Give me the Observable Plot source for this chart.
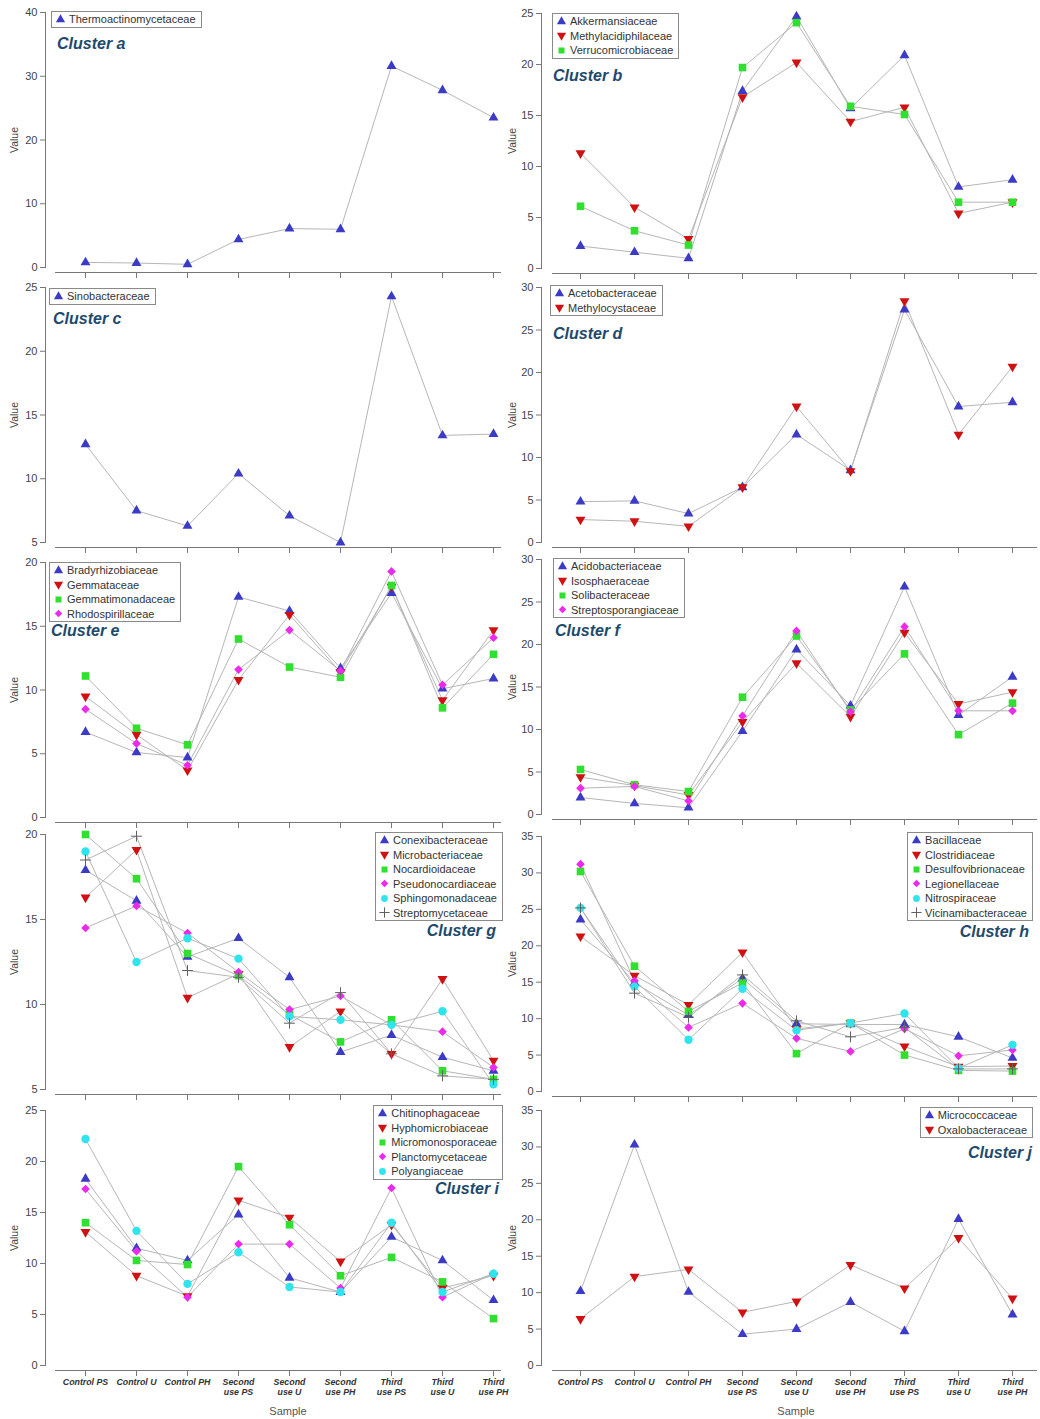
<!DOCTYPE html>
<html><head><meta charset="utf-8">
<script src="https://cdn.jsdelivr.net/npm/d3@7"></script>
<script src="https://cdn.jsdelivr.net/npm/@observablehq/plot@0.6"></script>
<style>
body{margin:0;background:#fff;font-family:"Liberation Sans",Arial,sans-serif;}
#c{position:relative;width:1040px;height:1419px;overflow:hidden;background:#fff;}
.panel{position:absolute;}
.legend{position:absolute;border:1px solid #8a8a8a;background:#fff;padding:0 5px 0 3px;font-size:11px;color:#333;line-height:14.5px;}
.legend .row{display:flex;align-items:center;white-space:nowrap;height:14.5px;}
.legend svg{margin-right:3px;flex:none;}
.title{position:absolute;font-size:16px;font-weight:bold;font-style:italic;color:#1e4a6d;line-height:16px;white-space:nowrap;}
.vlabel{position:absolute;font-size:10.5px;color:#444;transform:translate(-50%,-50%) rotate(-90deg);white-space:nowrap;}
.xlabel{position:absolute;font-size:11px;color:#555;transform:translate(-50%,-50%);}
</style></head><body><div id="c"></div>
<script>
// ---------- data ----------
const samples = ["Control PS","Control U","Control PH","Second use PS","Second use U","Second use PH","Third use PS","Third use U","Third use PH"];
const sampleTickLabels = ["Control PS","Control U","Control PH","Second\nuse PS","Second\nuse U","Second\nuse PH","Third\nuse PS","Third\nuse U","Third\nuse PH"];

const clusterA_names = ["Thermoactinomycetaceae"];
const clusterA_values = [[0.8, 0.7, 0.5, 4.4, 6.1, 6.0, 31.6, 27.8, 23.5]];
const clusterA_ticks = [0, 10, 20, 30, 40];

const clusterB_names = ["Akkermansiaceae", "Methylacidiphilaceae", "Verrucomicrobiaceae"];
const clusterB_values = [
  [2.2, 1.6, 1.0, 17.4, 24.7, 15.7, 20.9, 8.0, 8.7],
  [11.3, 6.0, 2.9, 16.8, 20.2, 14.4, 15.8, 5.4, 6.5],
  [6.1, 3.7, 2.3, 19.7, 24.1, 15.9, 15.1, 6.5, 6.5]
];
const clusterB_ticks = [0, 5, 10, 15, 20, 25];

const clusterC_names = ["Sinobacteraceae"];
const clusterC_values = [[12.7, 7.5, 6.3, 10.4, 7.1, 5.0, 24.3, 13.4, 13.5]];
const clusterC_ticks = [5, 10, 15, 20, 25];

const clusterD_names = ["Acetobacteraceae", "Methylocystaceae"];
const clusterD_values = [
  [4.8, 4.9, 3.4, 6.5, 12.7, 8.5, 27.4, 16.0, 16.5],
  [2.7, 2.5, 1.9, 6.5, 16.0, 8.4, 28.4, 12.7, 20.7]
];
const clusterD_ticks = [0, 5, 10, 15, 20, 25, 30];

const clusterE_names = ["Bradyrhizobiaceae", "Gemmataceae", "Gemmatimonadaceae", "Rhodospirillaceae"];
const clusterE_values = [
  [6.7, 5.1, 4.7, 17.3, 16.2, 11.7, 17.6, 10.1, 10.9],
  [9.5, 6.5, 3.7, 10.8, 15.9, 11.4, 18.1, 9.2, 14.7],
  [11.1, 7.0, 5.7, 14.0, 11.8, 11.0, 18.2, 8.6, 12.8],
  [8.5, 5.8, 4.1, 11.6, 14.7, 11.5, 19.3, 10.4, 14.1]
];
const clusterE_ticks = [0, 5, 10, 15, 20];

const clusterF_names = ["Acidobacteriaceae", "Isosphaeraceae", "Solibacteraceae", "Streptosporangiaceae"];
const clusterF_values = [
  [2.0, 1.3, 0.8, 9.8, 19.4, 12.8, 26.8, 11.7, 16.2],
  [4.4, 3.4, 2.3, 10.9, 17.8, 11.5, 21.4, 13.0, 14.4],
  [5.3, 3.5, 2.7, 13.8, 21.0, 12.3, 18.9, 9.4, 13.1],
  [3.1, 3.3, 1.6, 11.6, 21.6, 12.1, 22.1, 12.2, 12.2]
];
const clusterF_ticks = [0, 5, 10, 15, 20, 25, 30];

const clusterG_names = ["Conexibacteraceae", "Microbacteriaceae", "Nocardioidaceae", "Pseudonocardiaceae", "Sphingomonadaceae", "Streptomycetaceae"];
const clusterG_values = [
  [17.9, 16.1, 12.8, 13.9, 11.6, 7.2, 8.2, 6.9, 6.1],
  [16.3, 19.1, 10.4, 11.8, 7.5, 9.6, 7.1, 11.5, 6.7],
  [20.0, 17.4, 13.0, 11.7, 9.4, 7.8, 9.1, 6.1, 5.6],
  [14.5, 15.8, 14.2, 11.9, 9.7, 10.5, 8.8, 8.4, 6.3],
  [19.0, 12.5, 13.9, 12.7, 9.3, 9.1, 8.8, 9.6, 5.3],
  [18.5, 19.9, 12.0, 11.6, 8.9, 10.7, 7.1, 5.8, 5.6]
];
const clusterG_ticks = [5, 10, 15, 20];

const clusterH_names = ["Bacillaceae", "Clostridiaceae", "Desulfovibrionaceae", "Legionellaceae", "Nitrospiraceae", "Vicinamibacteraceae"];
const clusterH_values = [
  [23.6, 14.9, 10.5, 15.5, 9.3, 9.2, 9.2, 7.5, 4.6],
  [21.3, 15.9, 11.9, 19.1, 8.6, 9.4, 6.2, 3.4, 3.5],
  [30.2, 17.2, 11.0, 14.9, 5.2, 9.4, 5.0, 2.9, 2.8],
  [31.2, 15.2, 8.8, 12.1, 7.3, 5.5, 8.6, 4.9, 5.7],
  [25.2, 14.4, 7.1, 14.1, 8.4, 9.4, 10.7, 3.2, 6.4],
  [25.2, 13.5, 10.2, 16.0, 9.7, 7.5, 8.8, 3.1, 3.1]
];
const clusterH_ticks = [0, 5, 10, 15, 20, 25, 30, 35];

const clusterI_names = ["Chitinophagaceae", "Hyphomicrobiaceae", "Micromonosporaceae", "Planctomycetaceae", "Polyangiaceae"];
const clusterI_values = [
  [18.3, 11.5, 10.3, 14.8, 8.6, 7.2, 12.6, 10.3, 6.4],
  [13.1, 8.8, 6.8, 16.2, 14.5, 10.2, 13.8, 7.6, 8.8],
  [14.0, 10.3, 9.9, 19.5, 13.8, 8.8, 10.6, 8.2, 4.6],
  [17.3, 11.2, 6.7, 11.9, 11.9, 7.6, 17.4, 6.7, 9.0],
  [22.2, 13.2, 8.0, 11.1, 7.7, 7.2, 14.0, 7.2, 9.0]
];
const clusterI_ticks = [0, 5, 10, 15, 20, 25];

const clusterJ_names = ["Micrococcaceae", "Oxalobacteraceae"];
const clusterJ_values = [
  [10.2, 30.3, 10.1, 4.3, 5.0, 8.7, 4.7, 20.1, 7.0],
  [6.4, 12.2, 13.2, 7.3, 8.8, 13.8, 10.6, 17.5, 9.2]
];
const clusterJ_ticks = [0, 5, 10, 15, 20, 25, 30, 35];

const clusterTitles = ["Cluster a","Cluster b","Cluster c","Cluster d","Cluster e","Cluster f","Cluster g","Cluster h","Cluster i","Cluster j"];

// ---------- styles ----------
const triangleDown = {
  draw(ctx, size) {
    const s3 = Math.sqrt(3);
    const y = -Math.sqrt(size / (s3 * 3));
    ctx.moveTo(0, -y * 2);
    ctx.lineTo(-s3 * y, y);
    ctx.lineTo(s3 * y, y);
    ctx.closePath();
  }
};
const seriesStyles = [
  {symbol: d3.symbolTriangle, r: 3.7, fill: "#3b3bc6", stroke: "none"},
  {symbol: triangleDown, r: 3.7, fill: "#cf1111", stroke: "none"},
  {symbol: d3.symbolSquare, r: 4.3, fill: "#2fe02f", stroke: "none"},
  {symbol: d3.symbolDiamond2, r: 3.9, fill: "#ec2aec", stroke: "none"},
  {symbol: d3.symbolCircle, r: 4.2, fill: "#2fe4ec", stroke: "none"},
  {symbol: d3.symbolPlus, r: 3.6, fill: "none", stroke: "#606060"}
];

// ---------- layout ----------
const L = {left: 0, width: 520, ml: 45, mr: 20, ixl: 36, ixr: 4, fxl: 10, vx: 14, sx: 288};
const R = {left: 500, width: 540, ml: 41, mr: 4, ixl: 37, ixr: 23, fxl: 11, vx: 512, sx: 796};
const panels = [
  {side: L, top: 0,    names: clusterA_names, values: clusterA_values, ticks: clusterA_ticks,
   legend: {left: 51, top: 11}, title: {left: 57, top: 36}},
  {side: R, top: 1,    names: clusterB_names, values: clusterB_values, ticks: clusterB_ticks,
   legend: {left: 552, top: 13}, title: {left: 553, top: 68}},
  {side: L, top: 275,  names: clusterC_names, values: clusterC_values, ticks: clusterC_ticks,
   legend: {left: 49, top: 288}, title: {left: 53, top: 311}},
  {side: R, top: 275,  names: clusterD_names, values: clusterD_values, ticks: clusterD_ticks,
   legend: {left: 550, top: 285}, title: {left: 553, top: 326}},
  {side: L, top: 550,  names: clusterE_names, values: clusterE_values, ticks: clusterE_ticks,
   legend: {left: 49, top: 562}, title: {left: 51, top: 623}},
  {side: R, top: 547,  names: clusterF_names, values: clusterF_values, ticks: clusterF_ticks,
   legend: {left: 553, top: 558}, title: {left: 555, top: 623}},
  {side: L, top: 822,  names: clusterG_names, values: clusterG_values, ticks: clusterG_ticks,
   legend: {right: 537, top: 832}, title: {right: 544, top: 923}},
  {side: R, top: 824,  names: clusterH_names, values: clusterH_values, ticks: clusterH_ticks,
   legend: {right: 7, top: 832}, title: {right: 11, top: 924}},
  {side: L, top: 1098, names: clusterI_names, values: clusterI_values, ticks: clusterI_ticks, bottom: true,
   legend: {right: 537, top: 1105}, title: {right: 541, top: 1181}},
  {side: R, top: 1098, names: clusterJ_names, values: clusterJ_values, ticks: clusterJ_ticks, bottom: true,
   legend: {right: 7, top: 1107}, title: {right: 8, top: 1145}}
];

const container = document.getElementById("c");
const PLOT_H = 255, MT = 12, IB = 5;

function place(el, pos) {
  for (const k of ["left", "right", "top"]) if (pos[k] != null) el.style[k] = pos[k] + "px";
}

panels.forEach((p, pi) => {
  const s = p.side;
  const mb = p.bottom ? 50 : 10;
  const height = MT + PLOT_H + IB + mb;
  const data = p.names.map((n, k) => p.values[k].map((v, i) => ({sample: samples[i], value: v, series: n})));
  const plot = Plot.plot({
    width: s.width,
    height,
    marginLeft: s.ml, marginRight: s.mr, marginTop: MT, marginBottom: mb,
    style: {background: "none", overflow: "visible", color: "#666", fontFamily: "'Liberation Sans', Arial, sans-serif", fontSize: "11px"},
    x: {type: "point", domain: samples, padding: 0, insetLeft: s.ixl, insetRight: s.ixr},
    y: {domain: [p.ticks[0], p.ticks[p.ticks.length - 1]], insetBottom: IB, label: null},
    marks: [
      Plot.frame({anchor: "left", insetBottom: IB, stroke: "#777"}),
      Plot.frame({anchor: "bottom", insetLeft: s.fxl, stroke: "#777"}),
      Plot.axisY({ticks: p.ticks, tickSize: 5, tickPadding: 3, fontSize: 11, fill: "#444", stroke: "#777", label: null}),
      Plot.axisX({
        tickSize: 6, stroke: "#777", label: null,
        tickPadding: 2,
        tickFormat: p.bottom ? (d) => sampleTickLabels[samples.indexOf(d)] : () => "",
        fontSize: 8.8, fontWeight: "bold", fontStyle: "italic", fill: "#333", lineHeight: 1.1
      }),
      ...data.map(d => Plot.line(d, {x: "sample", y: "value", stroke: "#b6b6b6", strokeWidth: 1})),
      ...data.map((d, k) => {
        const st = seriesStyles[k];
        return Plot.dot(d, {x: "sample", y: "value", symbol: st.symbol, r: st.r, fill: st.fill, stroke: st.stroke, strokeWidth: 1});
      })
    ]
  });
  const wrap = document.createElement("div");
  wrap.className = "panel";
  wrap.style.left = s.left + "px";
  wrap.style.top = p.top + "px";
  wrap.appendChild(plot);
  container.appendChild(wrap);

  // y label
  const vl = document.createElement("div");
  vl.className = "vlabel";
  vl.textContent = "Value";
  vl.style.left = s.vx + "px";
  vl.style.top = (p.top + MT + PLOT_H / 2) + "px";
  container.appendChild(vl);

  // x label
  if (p.bottom) {
    const xl = document.createElement("div");
    xl.className = "xlabel";
    xl.textContent = "Sample";
    xl.style.left = s.sx + "px";
    xl.style.top = "1411px";
    container.appendChild(xl);
  }

  // legend
  const lg = document.createElement("div");
  lg.className = "legend";
  place(lg, p.legend);
  p.names.forEach((n, k) => {
    const st = seriesStyles[k];
    const row = document.createElement("div");
    row.className = "row";
    const svg = d3.create("svg").attr("width", 11).attr("height", 11);
    svg.append("path")
      .attr("transform", "translate(5.5,5.5)")
      .attr("d", d3.symbol().type(st.symbol).size(Math.PI * 3.4 * 3.4)())
      .attr("fill", st.fill).attr("stroke", st.stroke);
    row.appendChild(svg.node());
    const t = document.createElement("span");
    t.textContent = n;
    row.appendChild(t);
    lg.appendChild(row);
  });
  container.appendChild(lg);

  // title
  const tt = document.createElement("div");
  tt.className = "title";
  tt.textContent = clusterTitles[pi];
  place(tt, p.title);
  container.appendChild(tt);
});
</script></body></html>
